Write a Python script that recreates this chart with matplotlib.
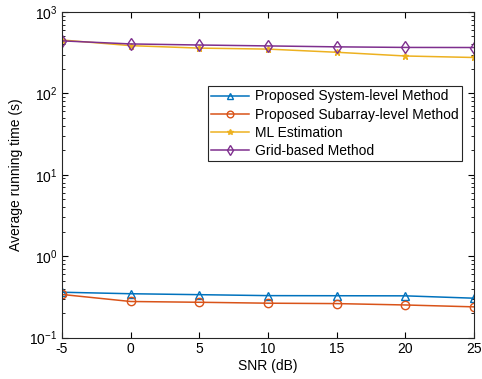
import matplotlib
matplotlib.use('Agg')
from matplotlib import pyplot as plt
from matplotlib.ticker import LogLocator, NullFormatter

plt.rcParams['font.family'] = ['Liberation Sans', 'DejaVu Sans']
plt.rcParams['axes.unicode_minus'] = False

snr = [-5, 0, 5, 10, 15, 20, 25]
system_level = [0.36, 0.345, 0.336, 0.327, 0.326, 0.325, 0.304]
subarray_level = [0.338, 0.277, 0.271, 0.264, 0.261, 0.251, 0.238]
ml_est = [453, 386, 360, 350, 320, 288, 276]
grid_based = [442, 405, 393, 383, 373, 367, 366]

fig = plt.figure(figsize=(4.82, 3.79), dpi=100)
ax = fig.add_axes([62/482, 1-337.5/379, 412/482, 325.5/379])

ax.semilogy(snr, system_level, c='#0072BD', marker='^', mfc='none', ms=6, lw=1.1,
            label='Proposed System-level Method')
ax.semilogy(snr, subarray_level, c='#D95319', marker='o', mfc='none', ms=6, lw=1.1,
            label='Proposed Subarray-level Method')
ax.semilogy(snr, ml_est, c='#EDB120', marker='*', ms=5, lw=1.1,
            label='ML Estimation')
ax.semilogy(snr, grid_based, c='#7E2F8E', marker='d', mfc='none', ms=6, lw=1.1,
            label='Grid-based Method')

ax.set_xlim(-5, 25)
ax.set_ylim(0.1, 1000)
ax.set_xticks(snr)
ax.yaxis.set_minor_locator(LogLocator(base=10, subs=range(2, 10)))
ax.yaxis.set_minor_formatter(NullFormatter())
ax.tick_params(which='both', direction='in', top=True, right=True, labelsize=10)
ax.tick_params(which='major', length=4)
ax.tick_params(which='minor', length=2)
for s in ax.spines.values():
    s.set_linewidth(0.8)
    s.set_color('#262626')

ax.set_xlabel('SNR (dB)', fontsize=10, labelpad=2)
ax.set_ylabel('Average running time (s)', fontsize=10)
leg = ax.legend(loc='upper left', bbox_to_anchor=((208-62)/412, 1-(86-12)/325.5),
                fontsize=10, fancybox=False, edgecolor='#262626', framealpha=1,
                borderaxespad=0, handlelength=2.7, borderpad=0.25, labelspacing=0.3,
                handletextpad=0.4, markerscale=0.8)
leg.get_frame().set_linewidth(0.8)

fig.savefig('out.png', dpi=100)
